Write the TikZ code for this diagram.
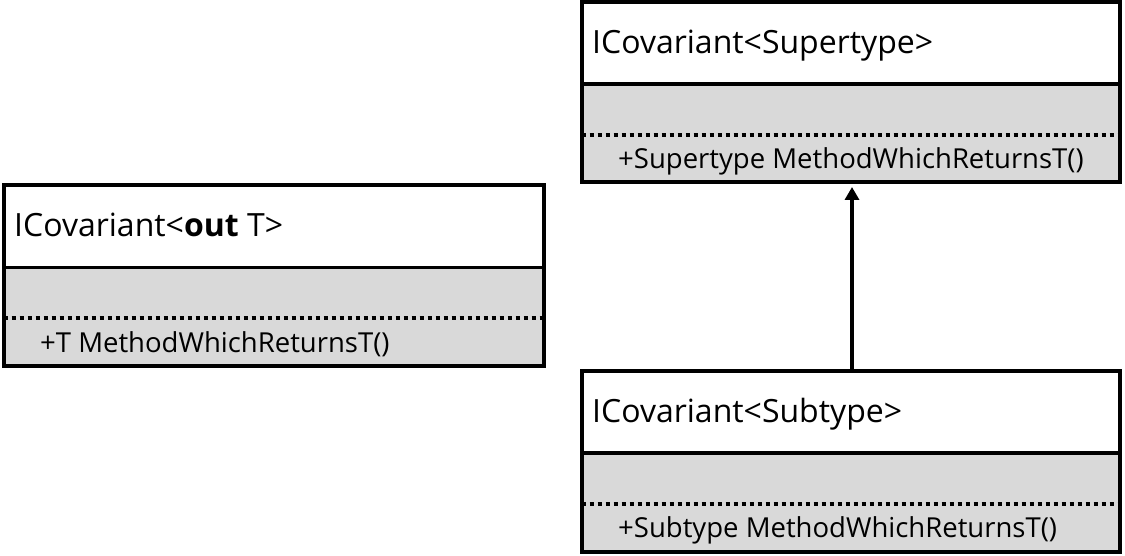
\documentclass[tikz,border=0pt]{standalone}
\usepackage{fontspec}
\setmainfont{Open Sans}
\usetikzlibrary{arrows.meta,calc}
\definecolor{compgray}{RGB}{217,217,217}
\tikzset{
  hdrpart/.style={rectangle, fill=white, draw=none, minimum width=538.5pt, minimum height=82pt, anchor=north west, inner sep=0pt, outer sep=0pt},
  attrpart/.style={rectangle, fill=compgray, draw=none, minimum width=538.5pt, minimum height=51pt, anchor=north west, inner sep=0pt, outer sep=0pt},
  methpart/.style={rectangle, fill=compgray, draw=none, minimum width=538.5pt, minimum height=47.5pt, anchor=north west, inner sep=0pt, outer sep=0pt},
  outerline/.style={draw=black, line width=4pt},
  sepline/.style={draw=black, line width=3.5pt},
  dotline/.style={draw=black, line width=4pt, dash pattern=on 4pt off 4pt},
  hdrtext/.style={anchor=base west, inner sep=0pt, font=\fontsize{32}{38}\selectfont},
  methtext/.style={anchor=base west, inner sep=0pt, font=\fontsize{27.5}{33}\selectfont},
  inherit/.style={draw=black, line width=3.8pt, -{Triangle[width=14pt,length=13pt]}}
}
\begin{document}
\begin{tikzpicture}[x=1pt,y=1pt]
\useasboundingbox (0,0) rectangle (1125,555);
% class: ICovariant<out T>
\node[hdrpart, minimum width=540.5pt] (gh) at (3.5,369.5) {};
\node[attrpart, minimum width=540.5pt] (ga) at (gh.south west) {};
\node[methpart, minimum width=540.5pt] (gm) at (ga.south west) {};
\draw[sepline] (gh.south west) -- (gh.south east);
\draw[dotline] (ga.south west) -- (ga.south east);
\draw[outerline] (gh.north west) rectangle (gm.south east);
\node[hdrtext] (ght) at ($(gh.north west)+(10.5,-51.5)$) {ICovariant<\textbf{out} T>};
\node[methtext] (gmt) at ($(ga.south west)+(36.5,-33.5)$) {+T MethodWhichReturnsT()};
% class: ICovariant<Supertype>
\node[hdrpart] (ph) at (581.5,553) {};
\node[attrpart] (pa) at (ph.south west) {};
\node[methpart] (pm) at (pa.south west) {};
\draw[sepline] (ph.south west) -- (ph.south east);
\draw[dotline] (pa.south west) -- (pa.south east);
\draw[outerline] (ph.north west) rectangle (pm.south east);
\node[hdrtext] (pht) at ($(ph.north west)+(10.5,-51.5)$) {ICovariant<Supertype>};
\node[methtext] (pmt) at ($(pa.south west)+(36.5,-33.5)$) {+Supertype MethodWhichReturnsT()};
% class: ICovariant<Subtype>
\node[hdrpart] (bh) at (581.5,184) {};
\node[attrpart] (ba) at (bh.south west) {};
\node[methpart] (bm) at (ba.south west) {};
\draw[sepline] (bh.south west) -- (bh.south east);
\draw[dotline] (ba.south west) -- (ba.south east);
\draw[outerline] (bh.north west) rectangle (bm.south east);
\node[hdrtext] (bht) at ($(bh.north west)+(10.5,-51.5)$) {ICovariant<Subtype>};
\node[methtext] (bmt) at ($(ba.south west)+(36.5,-33.5)$) {+Subtype MethodWhichReturnsT()};
% inheritance arrow
\coordinate (arrs) at ($(bh.north west)+(270.5,0)$);
\coordinate (arre) at ($(pm.south west)+(270.5,-4.5)$);
\draw[inherit] (arrs) -- (arre);
\end{tikzpicture}
\end{document}
